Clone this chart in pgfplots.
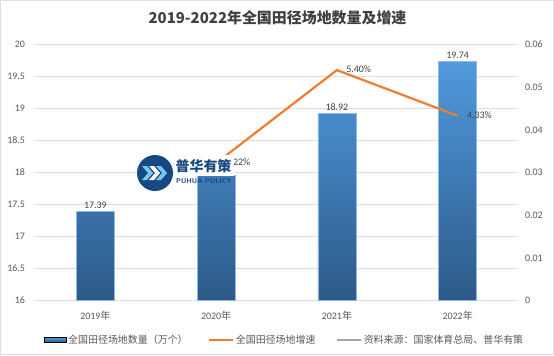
\documentclass[border=0pt]{standalone}
\usepackage{fontspec}
\setmainfont{Carlito}
\newfontfamily\cjk{Noto Sans CJK SC}
\usepackage{pgfplots}
\pgfplotsset{compat=1.18}
\usepackage{pgfplotstable}
\definecolor{barTop}{RGB}{80,153,222}
\definecolor{barBot}{RGB}{44,90,136}
\definecolor{barEdge}{RGB}{140,185,230}
\definecolor{lineOr}{RGB}{237,125,49}
\definecolor{srcGray}{RGB}{165,165,165}
\definecolor{gridC}{RGB}{222,222,222}
\definecolor{txt}{RGB}{89,89,89}
\definecolor{ttl}{RGB}{64,64,64}
\definecolor{logoBlue}{RGB}{22,72,130}
\definecolor{logoLight}{RGB}{120,200,240}

\pgfplotstableread{
x val lab
0 17.39 17.39
1 17.95 {}
2 18.92 18.92
3 19.74 19.74
}\bardata
\pgfplotstableread{
x g lab
1 0.0322 3.22\%
2 0.0540 5.40\%
3 0.0433 4.33\%
}\linedata

\begin{document}
\begin{tikzpicture}[x=1bp,y=1bp]
\useasboundingbox (0,0) rectangle (554,355);
\fill[white] (0,0) rectangle (554,355);
\draw[gridC, line width=1bp] (0.5,0.5) rectangle (553.5,354.5);
\node[font=\cjk\bfseries\fontsize{15}{18}\selectfont, text=ttl] at (277.5,337) {2019-2022年全国田径场地数量及增速};

\begin{axis}[
  at={(35bp,54.5bp)}, anchor=south west, scale only axis,
  width=483bp, height=256bp,
  xmin=-0.5, xmax=3.5, ymin=16, ymax=20,
  y coord trafo/.code={\pgfmathparse{#1-16}},
  y coord inv trafo/.code={\pgfmathparse{#1+16}},
  axis line style={draw=none}, major tick length=0pt,
  ymajorgrids, grid style={gridC, line width=0.9bp},
  xtick={0,1,2,3},
  xticklabels={2019{\cjk 年},2020{\cjk 年},2021{\cjk 年},2022{\cjk 年}},
  ytick={16,16.5,17,17.5,18,18.5,19,19.5,20},
  yticklabels={16,16.5,17,17.5,18,18.5,19,19.5,20},
  tick label style={font=\fontsize{10}{12}\selectfont, text=txt},
  yticklabel style={xshift=-6.5bp},
  xticklabel style={yshift=-7bp},
  clip=false,
]
\addplot[ybar, bar width=38bp, draw=barEdge, line width=0.5bp,
  top color=barTop, bottom color=barBot,
  nodes near coords, point meta=explicit symbolic,
  every node near coord/.append style={font=\fontsize{10}{12}\selectfont, text=ttl, yshift=-1bp}]
  table[x=x, y=val, meta=lab] {\bardata};
\end{axis}

\begin{axis}[
  at={(35bp,54.5bp)}, anchor=south west, scale only axis,
  width=483bp, height=256bp,
  xmin=-0.5, xmax=3.5, ymin=0, ymax=0.06,
  axis line style={draw=none}, major tick length=0pt,
  xtick=\empty, scaled y ticks=false,
  ytick={0,0.01,0.02,0.03,0.04,0.05,0.06},
  yticklabels={0,0.01,0.02,0.03,0.04,0.05,0.06},
  yticklabel pos=right,
  tick label style={font=\fontsize{10}{12}\selectfont, text=txt},
  yticklabel style={anchor=west, xshift=3.5bp},
  clip=false,
  legend image code/.code={\draw[#1, line width=2.2bp] (0bp,0bp) -- (24bp,0bp);},
  legend style={at={(0.5165,-0.154)}, anchor=center, draw=none, fill=none,
    legend columns=3, font=\cjk\fontsize{10}{12}\selectfont, text=txt,
    /tikz/every even column/.append style={column sep=18bp},
    inner sep=0pt},
  legend cell align=left,
]
\addlegendimage{legend image code/.code={\fill[top color=barTop, bottom color=barBot] (0bp,-2.5bp) rectangle (22bp,2.5bp);}}
\addlegendentry{全国田径场地数量（万个）}
\addplot[lineOr, line width=2.2bp, no markers,
  nodes near coords, point meta=explicit symbolic,
  every node near coord/.append style={anchor=west, xshift=5bp, yshift=1bp, font=\fontsize{10}{12}\selectfont, text=ttl}]
  table[x=x, y=g, meta=lab] {\linedata};
\addlegendentry{全国田径场地增速}
\addlegendimage{srcGray, line width=2.2bp}
\addlegendentry{资料来源：国家体育总局、普华有策}
\end{axis}

% watermark logo
\fill[white] (172,179) rectangle (234,200);
\fill[logoBlue] (155,182) circle (18);
\foreach \xx/\cc in {142/logoLight,149/white,156/logoLight}{
  \fill[\cc] (\xx,189) -- (\xx+5,189) -- (\xx+11,182) -- (\xx+5,175) -- (\xx,175) -- (\xx+6,182) -- cycle;
}
\node[font=\cjk\bfseries\fontsize{14}{16}\selectfont, text=logoBlue, inner sep=0] at (203.5,188.5) {普华有策};
\node[font=\sffamily\bfseries\fontsize{7}{8}\selectfont, text=logoBlue, inner sep=0] at (204,174) {PUHUA POLICY};
\end{tikzpicture}
\end{document}
